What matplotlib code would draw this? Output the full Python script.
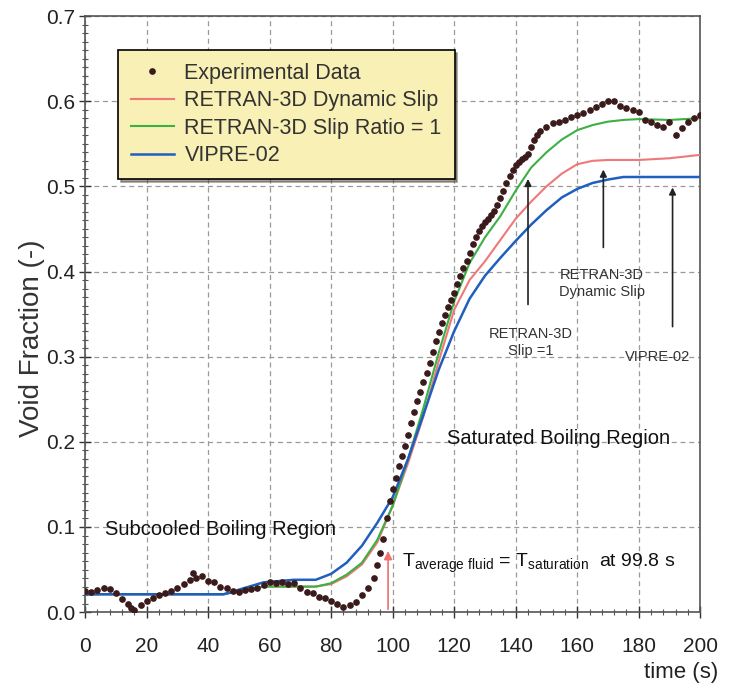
import matplotlib.pyplot as plt
import numpy as np
from matplotlib.ticker import MultipleLocator

plt.rcParams['font.family'] = ['Liberation Sans', 'DejaVu Sans']

# experimental void fraction
t_exp = [0, 2, 4, 6, 8, 10, 12, 14, 15, 16, 18, 20, 22, 24, 26, 28, 30, 32, 34, 35,
         36, 38, 40, 42, 44, 46, 48, 50, 52, 54, 56, 58, 60, 62, 64, 66, 68, 70, 72, 74,
         76, 78, 80, 82, 84, 86, 88, 90, 92, 94, 95, 96, 97, 98, 99, 100, 101, 102, 103, 104,
         105, 106, 107, 108, 109, 110, 111, 112, 113, 114, 115, 116, 117, 118, 119, 120, 121, 122, 123, 124,
         125, 126, 127, 128, 129, 130, 131, 132, 133, 134, 135, 136, 137, 138, 139, 140, 141, 142, 143, 144,
         145, 146, 147, 148, 150, 152, 154, 156, 158, 160, 162, 164, 166, 168, 170, 172, 174, 176, 178, 180,
         182, 184, 186, 188, 190, 192, 194, 196, 198, 200]
v_exp = [0.025, 0.024, 0.026, 0.028, 0.027, 0.022, 0.016, 0.010, 0.005, 0.003, 0.008, 0.013, 0.017, 0.020, 0.022, 0.025, 0.028, 0.033, 0.038, 0.046,
         0.040, 0.042, 0.036, 0.035, 0.030, 0.028, 0.025, 0.024, 0.026, 0.027, 0.028, 0.032, 0.035, 0.034, 0.035, 0.033, 0.034, 0.028, 0.024, 0.022,
         0.018, 0.017, 0.013, 0.010, 0.006, 0.008, 0.012, 0.020, 0.028, 0.040, 0.055, 0.070, 0.086, 0.110, 0.130, 0.145, 0.158, 0.172, 0.183, 0.195,
         0.208, 0.222, 0.235, 0.248, 0.259, 0.270, 0.281, 0.292, 0.305, 0.318, 0.329, 0.340, 0.349, 0.358, 0.367, 0.375, 0.385, 0.395, 0.404, 0.412,
         0.422, 0.432, 0.440, 0.448, 0.453, 0.458, 0.462, 0.466, 0.471, 0.478, 0.486, 0.495, 0.504, 0.512, 0.519, 0.525, 0.529, 0.532, 0.535, 0.538,
         0.546, 0.555, 0.560, 0.565, 0.570, 0.574, 0.576, 0.578, 0.582, 0.584, 0.586, 0.590, 0.593, 0.597, 0.600, 0.600, 0.594, 0.592, 0.590, 0.587,
         0.578, 0.575, 0.572, 0.570, 0.575, 0.560, 0.568, 0.575, 0.580, 0.584]

# model curves
t_mod = [0, 45, 58, 68, 75, 80, 85, 90, 95, 100, 105, 110, 115, 120, 125, 130, 135, 140,
         145, 150, 155, 160, 165, 170, 175, 180, 190, 200]
v_dyn = [0.021, 0.021, 0.030, 0.030, 0.030, 0.033, 0.042, 0.056, 0.082, 0.125, 0.175, 0.230, 0.295, 0.355,
         0.390, 0.412, 0.437, 0.462, 0.482, 0.500, 0.515, 0.526, 0.530, 0.531, 0.531, 0.531, 0.533, 0.537]
v_slip1 = [0.021, 0.021, 0.030, 0.030, 0.030, 0.034, 0.044, 0.058, 0.085, 0.125, 0.180, 0.240, 0.305, 0.365,
           0.410, 0.440, 0.465, 0.495, 0.522, 0.540, 0.555, 0.566, 0.572, 0.576, 0.578, 0.579, 0.578, 0.580]
v_vipre = [0.021, 0.021, 0.035, 0.038, 0.038, 0.045, 0.058, 0.078, 0.105, 0.135, 0.180, 0.232, 0.285, 0.330,
           0.368, 0.395, 0.416, 0.436, 0.455, 0.472, 0.487, 0.497, 0.504, 0.508, 0.511, 0.511, 0.511, 0.511]

fig = plt.figure(figsize=(7.34, 6.98), dpi=100)
ax = fig.add_axes([0.116, 0.123, 0.838, 0.854])

ax.plot(t_mod, v_dyn, color='#f07878', lw=1.5, label='RETRAN-3D Dynamic Slip', zorder=3)
ax.plot(t_mod, v_slip1, color='#3cb043', lw=1.5, label='RETRAN-3D Slip Ratio = 1', zorder=3)
ax.plot(t_mod, v_vipre, color='#1f5fbf', lw=1.8, label='VIPRE-02', zorder=3)
ax.plot(t_exp, v_exp, 'o', color='#3a1a1a', ms=3.8, label='Experimental Data', zorder=4)

ax.set_xlim(0, 200)
ax.set_ylim(0, 0.7)
ax.xaxis.set_major_locator(MultipleLocator(20))
ax.xaxis.set_minor_locator(MultipleLocator(4))
ax.yaxis.set_major_locator(MultipleLocator(0.1))
ax.yaxis.set_minor_locator(MultipleLocator(0.01))
ax.yaxis.set_major_formatter(lambda v, p: f'{v:.1f}')
ax.tick_params(which='major', direction='inout', length=8, width=1, labelsize=15, colors='#333333')
ax.tick_params(axis='x', which='major', pad=14)
ax.tick_params(axis='y', which='major', pad=3)
ax.tick_params(which='minor', direction='inout', length=4, width=0.8, color='#555555')
for lab in ax.get_xticklabels() + ax.get_yticklabels():
    lab.set_color('#222222')
ax.grid(True, which='major', color='#9a9a9a', ls=(0, (4, 3)), lw=0.9)
for s in ax.spines.values():
    s.set_color('#555555')
    s.set_linewidth(1.2)

ax.set_ylabel('Void Fraction (-)', fontsize=20, color='#333333')
ax.yaxis.set_label_coords(-0.066, 0.46)
fig.text(0.978, 0.022, 'time (s)', ha='right', va='bottom', fontsize=16, color='#222222')

# legend in the order of the original
h, l = ax.get_legend_handles_labels()
order = [3, 0, 1, 2]
leg = ax.legend([h[i] for i in order], [l[i] for i in order], loc='upper left',
                bbox_to_anchor=(0.053, 0.943), fontsize=15.5, facecolor='#f8f0b4',
                edgecolor='black', framealpha=1, fancybox=False, shadow=True,
                handlelength=2.0, handletextpad=0.5, borderpad=0.6, labelspacing=0.3,
                borderaxespad=0)
leg.get_frame().set_linewidth(1.2)
for txt in leg.get_texts():
    txt.set_color('#333333')

# region labels
ax.text(44, 0.097, 'Subcooled Boiling Region', ha='center', va='center', fontsize=14.5, color='#111111')
ax.text(154, 0.204, 'Saturated Boiling Region', ha='center', va='center', fontsize=14.5, color='#111111')
ax.text(103, 0.058, r'T$_{\mathregular{average\ fluid}}$ = T$_{\mathregular{saturation}}$  at 99.8 s',
        ha='left', va='center', fontsize=14, color='#111111')

# saturation arrow
ax.annotate('', xy=(98.5, 0.075), xytext=(98.5, 0.0),
            arrowprops=dict(arrowstyle='-|>', color='#f07070', lw=1.2, mutation_scale=12))

# model arrows
arr = dict(arrowstyle='-|>', color='#222222', lw=1.2, mutation_scale=10)
ax.annotate('', xy=(144, 0.512), xytext=(144, 0.358), arrowprops=arr)
ax.annotate('', xy=(168.5, 0.523), xytext=(168.5, 0.425), arrowprops=arr)
ax.annotate('', xy=(191, 0.502), xytext=(191, 0.332), arrowprops=arr)
ax.text(145, 0.317, 'RETRAN-3D\nSlip =1', ha='center', va='center', fontsize=10.5,
        color='#333333', linespacing=1.3)
ax.text(168, 0.386, 'RETRAN-3D\nDynamic Slip', ha='center', va='center', fontsize=10.5,
        color='#333333', linespacing=1.3)
ax.text(186, 0.300, 'VIPRE-02', ha='center', va='center', fontsize=10.5, color='#333333')

plt.savefig('out.png', dpi=100)
